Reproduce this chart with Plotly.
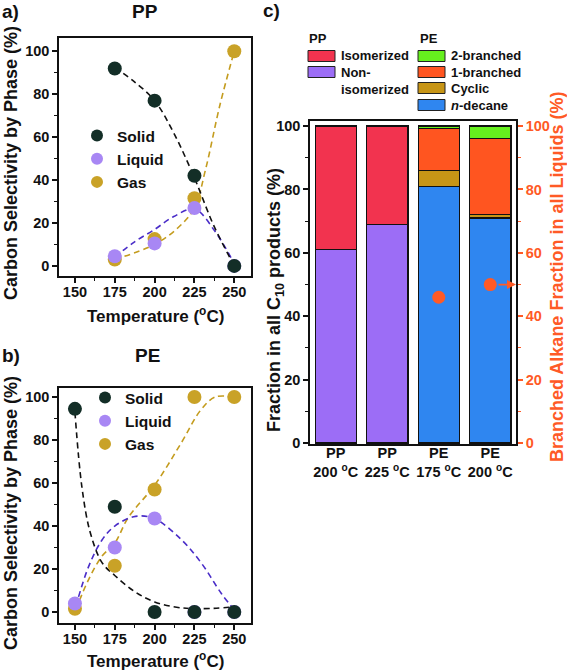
import plotly.graph_objects as go

W, H = 567, 671
def fx(p): return p / W
def fy(p): return 1 - p / H

FONT = "Liberation Sans, Arial, sans-serif"

# ---------------- data ----------------
# panel a (PP)
pp_temps = [175, 200, 225, 250]
pp_solid = [92, 77, 42, 0]
pp_liquid = [4.5, 10.5, 27, 0]
pp_gas = [3, 12.5, 31.5, 100]
# guide curves
pp_solid_fit_t = [175, 187, 200, 212, 225, 237, 250]
pp_solid_fit = [92.5, 86, 77, 62, 41, 19, 0]
pp_liquid_fit_t = [175, 187, 200, 212, 225, 238, 250]
pp_liquid_fit = [4, 11, 17, 23, 26.5, 16, 1]
pp_gas_fit_t = [175, 200, 215, 225, 232, 241, 250]
pp_gas_fit = [3, 10, 18, 27, 45, 75, 100]

# panel b (PE)
pe_temps = [150, 175, 200, 225, 250]
pe_solid = [94.5, 49, 0, 0, 0]
pe_liquid = [4, 30, 43.5, 0, 0]
pe_gas = [1.5, 21.5, 57, 100, 100]
pe_solid_fit_t = [150, 154.4, 159.6, 167, 175, 187.5, 200, 216, 237, 250]
pe_solid_fit = [93, 58, 37, 23, 17, 9.5, 4.7, 2, 1.7, 2.5]
pe_liquid_fit_t = [150.5, 158.5, 167, 175, 188, 200, 217, 229.5, 242, 250]
pe_liquid_fit = [2.5, 21, 33.5, 40, 44.5, 43.4, 33.5, 22.6, 8.5, 1]
pe_gas_fit_t = [150.5, 158.5, 167, 175, 183.5, 200, 217, 229, 238, 250]
pe_gas_fit = [1, 15, 26, 32, 44, 59, 79, 94, 100, 100]

# panel c
cats = ["PP<br>200 <sup>o</sup>C", "PP<br>225 <sup>o</sup>C",
        "PE<br>175 <sup>o</sup>C", "PE<br>200 <sup>o</sup>C"]
pp_noniso = [61, 69, None, None]
pp_iso = [39, 31, None, None]
pe_ndecane = [None, None, 81, 71]
pe_cyclic = [None, None, 5, 1]
pe_1branched = [None, None, 13.3, 24]
pe_2branched = [None, None, 0.7, 4]
branched_frac = [None, None, 46, 50]

# ---------------- styles ----------------
C_SOLID, C_LIQ, C_GAS = "#132e27", "#a887f4", "#c9a227"
L_SOLID, L_LIQ, L_GAS = "#111111", "#4a2dc8", "#c49c1e"
C_ISO, C_NONISO = "#f2334f", "#9c6df6"
C_2B, C_1B, C_CYC, C_ND = "#66f01e", "#ff5520", "#c79516", "#2f86f0"
ORANGE = "#ff5a26"

fig = go.Figure()

def add_phase(xa, ya, leg, t, s, l, g, st, sf, lt, lf, gt, gf):
    for tt, vv, col in [(gt, gf, L_GAS), (lt, lf, L_LIQ), (st, sf, L_SOLID)]:
        fig.add_trace(go.Scatter(x=tt, y=vv, mode="lines", xaxis=xa, yaxis=ya,
                                 line=dict(color=col, width=1.6, dash="6px,4px", shape="spline", smoothing=1),
                                 showlegend=False, hoverinfo="skip"))
    items = [("Gas", g, C_GAS, 3), ("Liquid", l, C_LIQ, 2), ("Solid", s, C_SOLID, 1)]
    for name, vals, col, rank in items:
        fig.add_trace(go.Scatter(x=t, y=vals, mode="markers", name=name, xaxis=xa, yaxis=ya,
                                 marker=dict(color=col, size=14), legend=leg, legendrank=rank))

add_phase("x", "y", "legend", pp_temps, pp_solid, pp_liquid, pp_gas,
          pp_solid_fit_t, pp_solid_fit, pp_liquid_fit_t, pp_liquid_fit, pp_gas_fit_t, pp_gas_fit)
add_phase("x2", "y2", "legend2", pe_temps, pe_solid, pe_liquid, pe_gas,
          pe_solid_fit_t, pe_solid_fit, pe_liquid_fit_t, pe_liquid_fit, pe_gas_fit_t, pe_gas_fit)

bar_line = dict(color="#111111", width=1.3)
bar_series = [("Non-<br>isomerized", pp_noniso, C_NONISO),
              ("Isomerized", pp_iso, C_ISO),
              ("<i>n</i>-decane", pe_ndecane, C_ND),
              ("Cyclic", pe_cyclic, C_CYC),
              ("1-branched", pe_1branched, C_1B),
              ("2-branched", pe_2branched, C_2B)]
for name, vals, col in bar_series:
    fig.add_trace(go.Bar(x=cats, y=vals, name=name, xaxis="x3", yaxis="y3", width=0.8,
                         marker=dict(color=col, line=bar_line), showlegend=False))

fig.add_trace(go.Scatter(x=cats, y=branched_frac, mode="markers", xaxis="x3", yaxis="y4",
                         marker=dict(color=ORANGE, size=13), showlegend=False))

tickfont = dict(family=FONT, size=14.5, color="#111", weight="bold")
titlefont = dict(family=FONT, size=18, color="#111", weight="bold")
common = dict(showline=True, linecolor="#111", linewidth=1.5, mirror=True, ticks="outside",
              ticklen=5, tickwidth=1.5, tickcolor="#111", showgrid=False, zeroline=False,
              tickfont=tickfont, automargin=False)

xab = dict(common, range=[140, 260.5], tick0=150, dtick=25, ticklabelstandoff=-3,
           minor=dict(ticks="outside", ticklen=3, tickwidth=1.2, dtick=12.5, tick0=150, tickcolor="#111"))
yab = dict(common, dtick=20, minor=dict(ticks="outside", ticklen=3, tickwidth=1.2, dtick=10, tickcolor="#111"))

legfont = dict(family=FONT, size=15.5, weight="bold", color="#111")
fig.update_layout(
    width=W, height=H, margin=dict(l=0, r=0, t=0, b=0),
    paper_bgcolor="white", plot_bgcolor="white",
    font=dict(family=FONT, color="#111", weight="bold"),
    barmode="stack",
    xaxis=dict(xab, domain=[fx(59), fx(251)], anchor="y"),
    yaxis=dict(yab, domain=[fy(276), fy(38)], range=[-4.7, 106.2], anchor="x"),
    xaxis2=dict(xab, domain=[fx(59), fx(251)], anchor="y2"),
    yaxis2=dict(yab, domain=[fy(623), fy(388)], range=[-5.1, 104.2], anchor="x2"),
    xaxis3=dict(common, domain=[fx(310), fx(516)], anchor="y3", type="category",
                range=[-0.5, 3.5], ticks="", ticklabelstandoff=-5, tickfont=dict(tickfont, size=14.5)),
    yaxis3=dict(common, domain=[fy(444), fy(121)], anchor="x3", range=[-0.3, 101.6], dtick=20,
                minor=dict(ticks="outside", ticklen=3, tickwidth=1.2, dtick=10, tickcolor="#111")),
    yaxis4=dict(common, overlaying="y3", anchor="x3", side="right", range=[-0.3, 101.6], dtick=20,
                mirror=False, tickcolor=ORANGE, tickfont=dict(tickfont, color=ORANGE),
                minor=dict(ticks="outside", ticklen=3, tickwidth=1.2, dtick=10, tickcolor=ORANGE)),
    legend=dict(x=fx(77), y=fy(119), xanchor="left", yanchor="top", bgcolor="rgba(0,0,0,0)",
                font=legfont, itemsizing="constant", traceorder="normal"),
    legend2=dict(x=fx(85), y=fy(381), xanchor="left", yanchor="top", bgcolor="rgba(0,0,0,0)",
                 font=legfont, itemsizing="constant", traceorder="normal"),
)

def ann(text, x, y, font, xanchor="center", yanchor="middle", angle=0, align="center"):
    fig.add_annotation(text=text, x=fx(x), y=fy(y), xref="paper", yref="paper",
                       xanchor=xanchor, yanchor=yanchor, showarrow=False, font=font,
                       textangle=angle, align=align)

# panel labels and titles
ann_font = dict(family=FONT, size=19, color="#111", weight="bold")
ann("a)", 0, 12, ann_font, xanchor="left")
ann("b)", 0, 355, ann_font, xanchor="left")
ann("c)", 261, 10, ann_font, xanchor="left")
ann("PP", 145, 12, ann_font)
ann("PE", 147, 355, ann_font)

# axis titles
xt_font = dict(family=FONT, size=17, color="#111", weight="bold")
ann("Temperature (<sup>o</sup>C)", 155, 315, xt_font)
ann("Temperature (<sup>o</sup>C)", 155, 660, xt_font)
ann("Carbon Selectivity by Phase (%)", 11, 163, titlefont, angle=-90)
ann("Carbon Selectivity by Phase (%)", 11, 513, titlefont, angle=-90)
ann("Fraction in all C<sub>10</sub> products (%)", 275, 300, titlefont, angle=-90)
ann("Branched Alkane Fraction in all Liquids (%)", 557, 277, dict(titlefont, color=ORANGE), angle=-90)

# panel c legend (two columns with group headers)
lg_font = dict(family=FONT, size=13, color="#111", weight="bold")
ann("PP", 307, 39, lg_font, xanchor="left")
ann("PE", 418, 39, lg_font, xanchor="left")
pp_leg = [("Isomerized", C_ISO, 56), ("Non-<br>isomerized", C_NONISO, 72)]
pe_leg = [("2-branched", C_2B, 56), ("1-branched", C_1B, 72), ("Cyclic", C_CYC, 88),
          ("<i>n</i>-decane", C_ND, 105)]
for (items, x0) in [(pp_leg, 308), (pe_leg, 418)]:
    for name, col, yc in items:
        fig.add_shape(type="rect", xref="paper", yref="paper", x0=fx(x0), x1=fx(x0 + 27),
                      y0=fy(yc + 5.5), y1=fy(yc - 5.5), fillcolor=col,
                      line=dict(color="#222", width=1))
        if "<br>" in name:
            ann(name, x0 + 31, yc - 9, lg_font, xanchor="left", yanchor="top", align="left")
        else:
            ann(name, x0 + 31, yc, lg_font, xanchor="left")

fig.add_annotation(x=3.5, y=branched_frac[3], xref="x3", yref="y4", text="", showarrow=True,
                   ax=-19, ay=0, arrowhead=2, arrowsize=1, arrowwidth=1.8, arrowcolor=ORANGE)

fig.write_html("out.html", config={"displayModeBar": False},
               post_script="document.body.style.margin='0';document.body.style.overflow='hidden';")
